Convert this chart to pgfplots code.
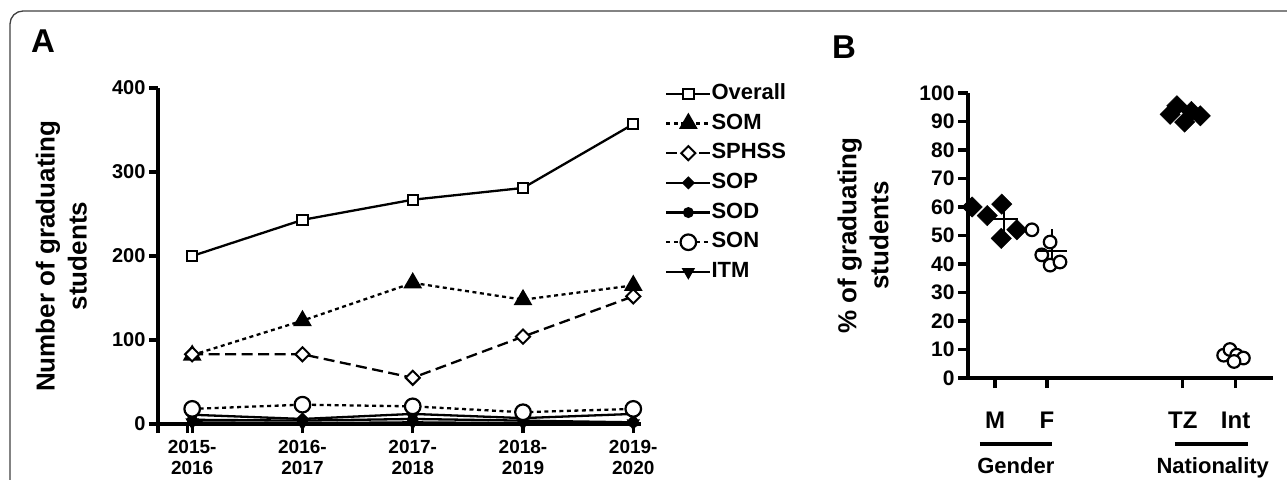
\documentclass[border=0pt]{standalone}
\usepackage{fontspec}
\setmainfont{Liberation Sans}
\usepackage{pgfplots}
\pgfplotsset{compat=1.18}
\usetikzlibrary{plotmarks}

\begin{document}
\begin{tikzpicture}[x=1pt,y=1pt]
\useasboundingbox (0,0) rectangle (1287,479);
\begin{scope}
\clip (0,0) rectangle (1287,479);
\draw[line width=1.3pt, black!75, rounded corners=13pt] (10,-30) -- (10,468) -- (1330,468);
\end{scope}
\node[font=\fontsize{33}{33}\selectfont\bfseries] at (43,438) {A};
\node[font=\fontsize{33}{33}\selectfont\bfseries] at (844,432) {B};

\pgfplotsset{
  myaxis/.style={
    scale only axis, anchor=south west,
    axis lines*=left,
    axis line style={line width=3.2pt, black},
    tick style={line width=3.2pt, black},
    major tick length=9pt,
    tick align=outside,
    clip=false,
    /pgf/number format/assume math mode=true,
  }
}

% ---------------- Panel A ----------------
\begin{axis}[myaxis,
  at={(158pt,55pt)}, width=483pt, height=336pt,
  xmin=0.69, xmax=5.07, ymin=0, ymax=400,
  xtick={1,2,3,4,5},
  xticklabels={{2015-\\2016},{2016-\\2017},{2017-\\2018},{2018-\\2019},{2019-\\2020}},
  extra x ticks={0.69,0.955}, extra x tick labels={},
  ytick={0,100,200,300,400},
  yticklabel style={font=\fontsize{20}{20}\selectfont\bfseries},
  xticklabel style={font=\fontsize{19}{21}\selectfont\bfseries, align=center, yshift=-4pt},
  ylabel={Number of graduating\\students},
  ylabel style={font=\fontsize{26}{32}\selectfont\bfseries, align=center,
    at={(axis description cs:-0.2,0.5)}, anchor=center},
  legend style={at={(axis description cs:1.0497,1.014)}, anchor=north west,
    draw=none, fill=none, inner sep=0pt,
    font=\fontsize{22}{22}\selectfont\bfseries,
    nodes={inner sep=0pt, text height=16pt, text depth=4.5pt},
    row sep=9.2pt,
    /tikz/every even column/.append style={column sep=5pt}},
  legend cell align=left,
  legend image code/.code={\draw[mark repeat=2,mark phase=2] plot coordinates {(0pt,0pt)(22pt,0pt)(44pt,0pt)};},
]
\addplot[black, line width=2.3pt, mark=square*, mark size=5.2pt,
  mark options={solid, fill=white, line width=2pt}]
  coordinates {(1,200) (2,243) (3,267) (4,281) (5,357)};
\addlegendentry{Overall}
\addplot[black, line width=2.3pt, dash pattern=on 4pt off 3.5pt, mark=triangle*, mark size=8.5pt,
  mark options={solid}]
  coordinates {(1,82) (2,123) (3,168) (4,148) (5,165)};
\addlegendentry{SOM}
\addplot[black, line width=2.3pt, dash pattern=on 11pt off 5.5pt, mark=square*, mark size=5pt,
  mark options={solid, rotate=45, fill=white, line width=2pt}]
  coordinates {(1,83) (2,83) (3,55) (4,104) (5,152)};
\addlegendentry{SPHSS}
\addplot[black, line width=2.3pt, mark=square*, mark size=3.5pt,
  mark options={solid, rotate=45}]
  coordinates {(1,11) (2,6) (3,12) (4,7) (5,12)};
\addlegendentry{SOP}
\addplot[black, line width=2.3pt, mark=*, mark size=4.3pt, mark options={solid}]
  coordinates {(1,5) (2,4) (3,6) (4,4) (5,2)};
\addlegendentry{SOD}
\addplot[black, line width=2.3pt, dash pattern=on 4pt off 3.5pt, mark=*, mark size=7.8pt,
  mark options={solid, fill=white, line width=2.2pt}]
  coordinates {(1,18) (2,23) (3,21) (4,14) (5,18)};
\addlegendentry{SON}
\addplot[black, line width=2.3pt, mark=triangle*, mark size=5.5pt,
  mark options={solid, rotate=180}]
  coordinates {(1,2) (2,1) (3,2) (4,1) (5,1)};
\addlegendentry{ITM}
\end{axis}

% ---------------- Panel B ----------------
\begin{axis}[myaxis,
  at={(968pt,101pt)}, width=305pt, height=285pt,
  xmin=0.48, xmax=6.35, ymin=0, ymax=100,
  xtick={1,2,4.615,5.63}, xticklabels={},
  major tick length=10pt,
  ytick={0,10,...,100},
  yticklabel style={font=\fontsize{21}{21}\selectfont\bfseries},
  ylabel={\% of graduating\\students},
  ylabel style={font=\fontsize{26}{32}\selectfont\bfseries, align=center,
    at={(axis description cs:-0.344,0.5)}, anchor=center},
]
% Male
\addplot[only marks, mark=square*, mark size=7.2pt, mark options={rotate=45, fill=black}]
  coordinates {(0.56,60) (0.85,57) (1.13,61) (1.12,49) (1.42,52)};
% Female
\addplot[only marks, mark=*, mark size=6.3pt, mark options={fill=white, line width=2.2pt}]
  coordinates {(1.71,52) (1.90,43.2) (2.06,47.7) (2.06,39.6) (2.25,40.7)};
% Tanzanian
\addplot[only marks, mark=square*, mark size=7.2pt, mark options={rotate=45, fill=black}]
  coordinates {(4.37,92.5) (4.50,95.5) (4.65,89.8) (4.78,93.5) (4.95,92)};
% International
\addplot[only marks, mark=*, mark size=6.3pt, mark options={fill=white, line width=2.2pt}]
  coordinates {(5.40,8) (5.52,10) (5.65,8) (5.78,7) (5.60,5.8)};
% mean +- SD
\addplot[only marks, mark=-, mark size=14pt, mark options={line width=2.6pt},
  error bars/.cd, y dir=both, y explicit, error mark=-,
  error mark options={mark size=7pt, line width=2.6pt},
  error bar style={line width=2.6pt}]
  coordinates {(1.17,55.8) +- (0,5.2)};
\addplot[only marks, mark=-, mark size=15pt, mark options={line width=2.6pt},
  error bars/.cd, y dir=both, y explicit, error mark=-,
  error mark options={mark size=7pt, line width=2.6pt},
  error bar style={line width=2.6pt}]
  coordinates {(2.10,44.6) +- (0,5.1)};

\node[anchor=base, font=\fontsize{24}{24}\selectfont\bfseries] at (axis cs:1,-17.6) {M};
\node[anchor=base, font=\fontsize{24}{24}\selectfont\bfseries] at (axis cs:2,-17.6) {F};
\node[anchor=base, font=\fontsize{24}{24}\selectfont\bfseries] at (axis cs:4.615,-17.6) {TZ};
\node[anchor=base, font=\fontsize{24}{24}\selectfont\bfseries] at (axis cs:5.63,-17.6) {Int};
\draw[line width=4pt] (axis cs:0.71,-23.2) -- (axis cs:2.1,-23.2);
\draw[line width=4pt] (axis cs:4.46,-23.2) -- (axis cs:5.87,-23.2);
\node[anchor=base, font=\fontsize{22}{22}\selectfont\bfseries] at (axis cs:1.40,-33.6) {Gender};
\node[anchor=base, font=\fontsize{22}{22}\selectfont\bfseries] at (axis cs:5.19,-33.6) {Nationality};
\end{axis}
\end{tikzpicture}
\end{document}
